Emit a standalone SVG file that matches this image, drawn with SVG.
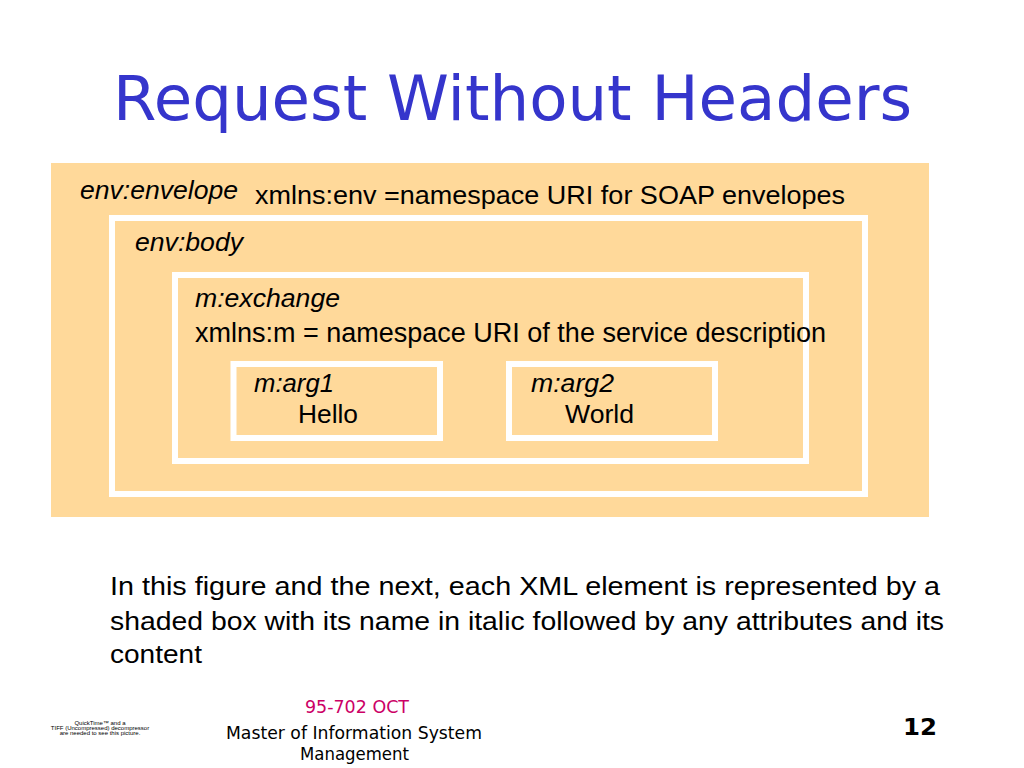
<svg xmlns="http://www.w3.org/2000/svg" width="1024" height="768" viewBox="0 0 1024 768">
<style>
.box{fill:#FFD99A;stroke:#FFFFFF;stroke-width:6}
.t{font-family:"Liberation Sans",Arial,sans-serif;font-size:26px;fill:#000}
.i{font-style:italic}
.f{font-family:"DejaVu Sans",Verdana,sans-serif;fill:#000}
</style>
<rect width="1024" height="768" fill="#FFFFFF"/>
<text x="113" y="120" font-family="DejaVu Sans, Verdana, sans-serif" font-size="62" fill="#3535CC" textLength="799" lengthAdjust="spacingAndGlyphs">Request Without Headers</text>
<g id="envelope">
<rect x="51" y="163" width="878" height="354" fill="#FFD99A"/>
<text class="t i" x="80" y="199" textLength="158" lengthAdjust="spacingAndGlyphs">env:envelope</text>
<text class="t" x="255" y="204" textLength="590" lengthAdjust="spacingAndGlyphs">xmlns:env =namespace URI for SOAP envelopes</text>
</g>
<g id="body">
<rect class="box" x="112" y="218" width="753" height="276"/>
<text class="t i" x="135" y="251" textLength="108" lengthAdjust="spacingAndGlyphs">env:body</text>
</g>
<g id="exchange">
<rect class="box" x="175" y="275" width="631" height="186"/>
<text class="t i" x="195" y="307" textLength="145" lengthAdjust="spacingAndGlyphs">m:exchange</text>
<text class="t" x="195" y="342" style="font-size:27px" textLength="631" lengthAdjust="spacingAndGlyphs">xmlns:m = namespace URI of the service description</text>
</g>
<g id="arg1">
<rect class="box" x="233.5" y="364" width="206.5" height="74"/>
<text class="t i" x="254" y="392" textLength="80" lengthAdjust="spacingAndGlyphs">m:arg1</text>
<text class="t" x="298" y="423" textLength="60" lengthAdjust="spacingAndGlyphs">Hello</text>
</g>
<g id="arg2">
<rect class="box" x="509" y="364" width="206" height="74"/>
<text class="t i" x="531" y="392" textLength="83" lengthAdjust="spacingAndGlyphs">m:arg2</text>
<text class="t" x="565" y="423" textLength="69" lengthAdjust="spacingAndGlyphs">World</text>
</g>
<g id="connectors"></g>
<g id="caption">
<text class="t" x="110" y="595" textLength="830" lengthAdjust="spacingAndGlyphs">In this figure and the next, each XML element is represented by a</text>
<text class="t" x="110" y="630" textLength="834" lengthAdjust="spacingAndGlyphs">shaded box with its name in italic followed by any attributes and its</text>
<text class="t" x="110" y="663" textLength="92" lengthAdjust="spacingAndGlyphs">content</text>
</g>
<g id="footer">
<text x="100" y="725" font-family="Liberation Sans, Arial, sans-serif" font-size="6" fill="#000" text-anchor="middle">QuickTime™ and a</text>
<text x="100" y="730" font-family="Liberation Sans, Arial, sans-serif" font-size="6" fill="#000" text-anchor="middle">TIFF (Uncompressed) decompressor</text>
<text x="100" y="735" font-family="Liberation Sans, Arial, sans-serif" font-size="6" fill="#000" text-anchor="middle">are needed to see this picture.</text>
<text class="f" x="305" y="713" font-size="17" style="fill:#CC0066" textLength="104" lengthAdjust="spacingAndGlyphs">95-702 OCT</text>
<text class="f" x="226" y="739" font-size="17" textLength="256" lengthAdjust="spacingAndGlyphs">Master of Information System</text>
<text class="f" x="300" y="760" font-size="17" textLength="109" lengthAdjust="spacingAndGlyphs">Management</text>
<text class="f" x="903" y="735" font-size="23" font-weight="bold" textLength="34" lengthAdjust="spacingAndGlyphs">12</text>
</g>
</svg>
